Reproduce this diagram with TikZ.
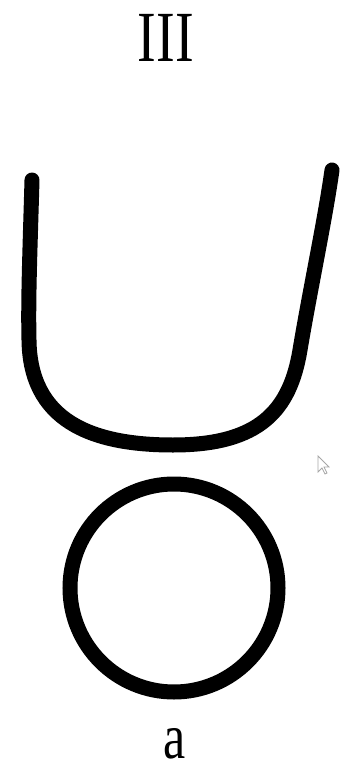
\documentclass[tikz,border=0pt]{standalone}
\usepackage{fontspec}
\setmainfont{Liberation Serif}
\begin{document}
\begin{tikzpicture}[x=1pt,y=-1pt,
  thick stroke/.style={line width=15pt, line cap=round, black},
  label text/.style={font=\fontsize{72}{72}\selectfont, inner sep=0pt, anchor=base, xscale=0.78}]
\useasboundingbox (0,0) rectangle (362,775);
\node[label text] (title) at (166,62) {III};
\draw[thick stroke] (32,180) .. controls (30,250) and (28,300) .. (29,340)
  .. controls (30,420) and (90,445) .. (173,445)
  .. controls (260,445) and (290,410) .. (300,350)
  .. controls (310,290) and (325,220) .. (332,170);
\draw[line width=15pt] (174,588) circle[radius=104];
\draw[gray!70, line width=0.8pt] (318,456) -- (318,472) -- (322,468) -- (325,474) -- (327,473) -- (324,467) -- (329,467) -- cycle;
\node[label text, font=\fontsize{64}{64}\selectfont] (lab) at (175,758) {a};
\end{tikzpicture}
\end{document}
